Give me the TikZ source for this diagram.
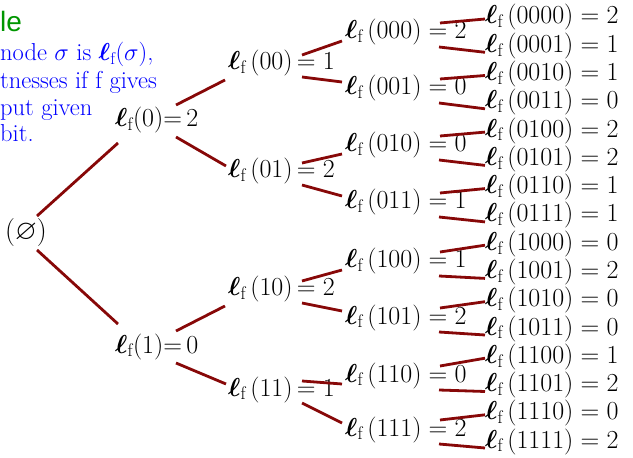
\RequirePackage{fix-cm}
\documentclass[tikz,border=0pt]{standalone}
\usepackage{amsmath,amssymb}
\usepackage{fontspec}
\newfontfamily\slidesans{Liberation Sans}
\definecolor{lfRed}{RGB}{135,8,8}
\definecolor{lfGreen}{RGB}{0,150,0}
\definecolor{lfBlue}{RGB}{0,0,255}
\newcommand{\lfof}[1]{\boldsymbol{\ell}_{\mathrm{f}}\,(#1)}

\begin{document}
\begin{tikzpicture}[
                x=1bp,y=-1bp,
                lfEdge/.style={draw=lfRed,line width=2.8bp},
                lfLabel/.style={anchor=base west,inner sep=0pt,
                                font=\fontsize{26bp}{30bp}\selectfont},
                lfNote/.style={anchor=base west,inner sep=0pt,text=lfBlue,
                               font=\fontsize{24.5bp}{28bp}\selectfont}]
                \useasboundingbox (0,0) rectangle (633,458);

                % Slide text, cut off at the left edge.
                \node[anchor=base west,inner sep=0pt,text=lfGreen,
                      font=\slidesans\fontsize{28bp}{32bp}\selectfont] (title) at (0,32) {le};
                \node[lfNote] (note1) at (0,61) {node $\sigma$ is $\boldsymbol{\ell}_{\mathrm{f}}(\sigma)$,};
                \node[lfNote] (note2) at (0,89) {tnesses if f gives};
                \node[lfNote] (note3) at (0,116) {put given};
                \node[lfNote] (note4) at (0,142) {bit.};

                % Root and first two levels.
                \node[inner sep=0pt,font=\fontsize{28bp}{32bp}\selectfont] (root) at (26,233) {$(\varnothing)$};
                \node[lfLabel] (n0) at (115,127) {$\boldsymbol{\ell}_{\mathrm{f}}(0){=}\,2$};
                \node[lfLabel] (n1) at (115,353) {$\boldsymbol{\ell}_{\mathrm{f}}(1){=}\,0$};
                \node[lfLabel] (n00) at (228,70) {$\lfof{00}\,{=}\;1$};
                \node[lfLabel] (n01) at (228,178) {$\lfof{01}\,{=}\;2$};
                \node[lfLabel] (n10) at (228,296) {$\lfof{10}\,{=}\;2$};
                \node[lfLabel] (n11) at (228,396) {$\lfof{11}\,{=}\;1$};

                % Third level.
                \node[lfLabel] (n000) at (345,39) {$\lfof{000} = 2$};
                \node[lfLabel] (n001) at (345,95) {$\lfof{001} = 0$};
                \node[lfLabel] (n010) at (345,152) {$\lfof{010} = 0$};
                \node[lfLabel] (n011) at (345,209) {$\lfof{011} = 1$};
                \node[lfLabel] (n100) at (345,268) {$\lfof{100} = 1$};
                \node[lfLabel] (n101) at (345,324) {$\lfof{101} = 2$};
                \node[lfLabel] (n110) at (345,382) {$\lfof{110} = 0$};
                \node[lfLabel] (n111) at (345,436) {$\lfof{111} = 2$};

                % Leaves.
                \node[lfLabel] (n0000) at (485,24) {$\lfof{0000} = 2$};
                \node[lfLabel] (n0001) at (485,52.3) {$\lfof{0001} = 1$};
                \node[lfLabel] (n0010) at (485,80.5) {$\lfof{0010} = 1$};
                \node[lfLabel] (n0011) at (485,108.8) {$\lfof{0011} = 0$};
                \node[lfLabel] (n0100) at (485,137.1) {$\lfof{0100} = 2$};
                \node[lfLabel] (n0101) at (485,165.4) {$\lfof{0101} = 2$};
                \node[lfLabel] (n0110) at (485,193.6) {$\lfof{0110} = 1$};
                \node[lfLabel] (n0111) at (485,221.9) {$\lfof{0111} = 1$};
                \node[lfLabel] (n1000) at (485,250.2) {$\lfof{1000} = 0$};
                \node[lfLabel] (n1001) at (485,278.4) {$\lfof{1001} = 2$};
                \node[lfLabel] (n1010) at (485,306.7) {$\lfof{1010} = 0$};
                \node[lfLabel] (n1011) at (485,335) {$\lfof{1011} = 0$};
                \node[lfLabel] (n1100) at (485,363.2) {$\lfof{1100} = 1$};
                \node[lfLabel] (n1101) at (485,391.5) {$\lfof{1101} = 2$};
                \node[lfLabel] (n1110) at (485,419.8) {$\lfof{1110} = 0$};
                \node[lfLabel] (n1111) at (485,448) {$\lfof{1111} = 2$};

                % Branches, level by level.
                \draw[lfEdge] ([xshift=11bp,yshift=17bp]root.center) -- ([xshift=3bp,yshift=-16bp]n0.base west)
                              ([xshift=11bp,yshift=-17bp]root.center) -- ([xshift=3bp,yshift=29bp]n1.base west);
                \foreach \p in {0,1}
                  \draw[lfEdge] ([xshift=61bp,yshift=22bp]n\p.base west) -- ([xshift=-3bp,yshift=-10bp]n\p0.base west)
                                ([xshift=61bp,yshift=-10bp]n\p.base west) -- ([xshift=-2bp,yshift=12bp]n\p1.base west);
                \foreach \p in {00,01,10,11}
                  \draw[lfEdge] ([xshift=74bp,yshift=15bp]n\p.base west) -- ([xshift=-3bp,yshift=-2bp]n\p0.base west)
                                ([xshift=74bp,yshift=-7bp]n\p.base west) -- ([xshift=-3bp,yshift=13bp]n\p1.base west);
                \foreach \p in {000,001,010,011,100,101,110,111}
                  \draw[lfEdge] ([xshift=95bp,yshift=16bp]n\p.base west) -- ([yshift=5bp]n\p0.base west)
                                ([xshift=94bp,yshift=-8bp]n\p.base west) -- (n\p1.base west);

            \end{tikzpicture}
\end{document}
